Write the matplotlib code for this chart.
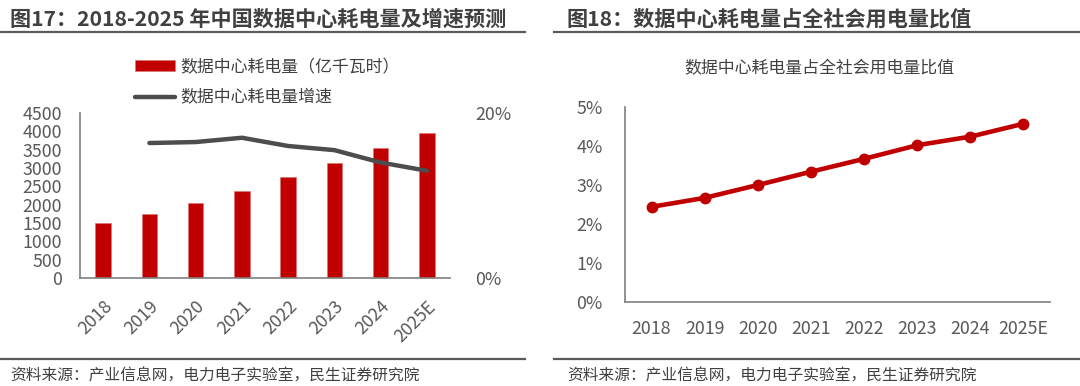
import numpy as np
import matplotlib
matplotlib.use("Agg")
from matplotlib import pyplot as plt
from matplotlib.lines import Line2D
from matplotlib.ticker import FuncFormatter

plt.rcParams['font.family'] = ['Noto Sans CJK SC', 'DejaVu Sans']

# data
years = ['2018', '2019', '2020', '2021', '2022', '2023', '2024', '2025E']
power = [1508, 1754, 2054, 2381, 2745, 3127, 3536, 3964]          # 亿千瓦时
growth = [np.nan, 0.1636, 0.1648, 0.170, 0.160, 0.155, 0.140, 0.130]
share = [0.0244, 0.0267, 0.0300, 0.0334, 0.0367, 0.0402, 0.0424, 0.0457]

RED = '#c00000'
GRAY = '#4d4d4d'
TXT = '#404040'
TICK = '#595959'
SPINE = '#7f7f7f'

fig = plt.figure(figsize=(10.8, 3.86), dpi=100)
W, H = 1080, 386


def fx(px):
    return px / W


def fy(py):
    return 1 - py / H


# headers, rules and footers
fig.text(fx(10), fy(19), '图17：2018-2025 年中国数据中心耗电量及增速预测', fontsize=15.2,
         fontweight='bold', color=TXT, va='center', ha='left')
fig.text(fx(567), fy(19), '图18：数据中心耗电量占全社会用电量比值', fontsize=15.2,
         fontweight='bold', color=TXT, va='center', ha='left')
for x0, x1 in [(0, 525), (554, 1080)]:
    for yy in (32, 359):
        fig.add_artist(Line2D([fx(x0), fx(x1)], [fy(yy), fy(yy)], color='#5a5a5a',
                              lw=1.6, transform=fig.transFigure))
fig.text(fx(10), fy(376), '资料来源：产业信息网，电力电子实验室，民生证券研究院', fontsize=11.3,
         color=TXT, va='center', ha='left')
fig.text(fx(567), fy(376), '资料来源：产业信息网，电力电子实验室，民生证券研究院', fontsize=11.3,
         color=TXT, va='center', ha='left')

x = np.arange(len(years))

# ---- left chart
ax1 = fig.add_axes([fx(80), fy(278), fx(450 - 80), (278 - 113) / H])
bars = ax1.bar(x, power, width=0.34, color=RED, edgecolor='#e07070', linewidth=0.4,
               label='数据中心耗电量（亿千瓦时）', zorder=2)
ax1.set_xlim(-0.5, 7.5)
ax1.set_ylim(0, 4500)
ax1.set_yticks(range(0, 4501, 500))
ax1.set_xticks(x)
ax1.set_xticklabels(years, rotation=45, ha='right', rotation_mode='anchor')
for s in ['top', 'right']:
    ax1.spines[s].set_visible(False)
for s in ['left', 'bottom']:
    ax1.spines[s].set_color(SPINE)
    ax1.spines[s].set_linewidth(1.2)
ax1.tick_params(axis='both', length=0, labelsize=12.8, colors=TICK)
ax1.tick_params(axis='y', pad=13)
ax1.tick_params(axis='x', pad=14)

ax2 = ax1.twinx()
ln, = ax2.plot(x, growth, color=GRAY, lw=3.2, solid_capstyle='round',
               label='数据中心耗电量增速', zorder=3)
ax2.set_ylim(0, 0.2)
ax2.set_yticks([0, 0.2])
ax2.yaxis.set_major_formatter(FuncFormatter(lambda v, p: f'{v * 100:.0f}%'))
for s in ['top', 'right', 'left', 'bottom']:
    ax2.spines[s].set_visible(False)
ax2.tick_params(axis='y', length=0, labelsize=12.8, colors=TICK, pad=18)

ax1.legend([bars, ln], ['数据中心耗电量（亿千瓦时）', '数据中心耗电量增速'],
           loc='upper left', bbox_to_anchor=(fx(128), fy(51)), bbox_transform=fig.transFigure,
           frameon=False, fontsize=12.2, handlelength=2.4, handleheight=0.6,
           handletextpad=0.3, labelspacing=0.75, labelcolor=TXT, borderaxespad=0)

# ---- right chart
ax3 = fig.add_axes([fx(625), fy(302), fx(1050 - 625), (302 - 107) / H])
ax3.plot(x, share, color=RED, lw=3.3, marker='o', markersize=7.5, zorder=3)
ax3.set_xlim(-0.5, 7.5)
ax3.set_ylim(0, 0.05)
ax3.set_yticks(np.arange(0, 0.051, 0.01))
ax3.yaxis.set_major_formatter(FuncFormatter(lambda v, p: f'{v * 100:.0f}%'))
ax3.set_xticks(x)
ax3.set_xticklabels(years)
for s in ['top', 'right']:
    ax3.spines[s].set_visible(False)
for s in ['left', 'bottom']:
    ax3.spines[s].set_color(SPINE)
    ax3.spines[s].set_linewidth(1.2)
ax3.tick_params(axis='both', length=0, labelsize=12.8, colors=TICK)
ax3.tick_params(axis='y', pad=16)
ax3.tick_params(axis='x', pad=13)
fig.text(fx(819), fy(68), '数据中心耗电量占全社会用电量比值', fontsize=12.2, color=TXT,
         ha='center', va='center')

fig.savefig('out.png', dpi=100)
